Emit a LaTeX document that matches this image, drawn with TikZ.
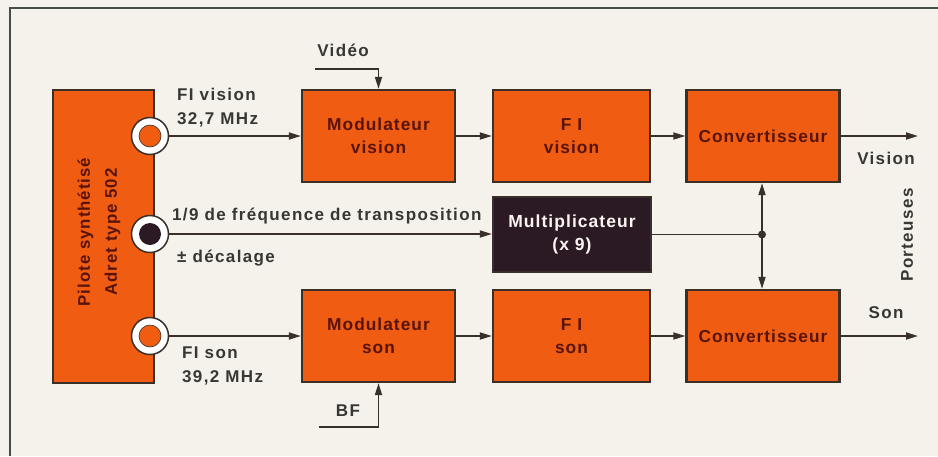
\documentclass[tikz,border=0pt]{standalone}
\usepackage{fontspec}
\setmainfont{Liberation Sans}[LetterSpace=6]
\newfontfamily\labfont{Liberation Sans}[LetterSpace=8]
\usetikzlibrary{arrows.meta,calc}
\definecolor{bg}{RGB}{244,242,234}
\definecolor{orng}{RGB}{240,92,18}
\definecolor{brd}{RGB}{58,48,42}
\definecolor{btxt}{RGB}{88,20,10}
\definecolor{ltxt}{RGB}{55,55,52}
\definecolor{dark}{RGB}{43,26,36}
\definecolor{frm}{RGB}{70,78,72}
\begin{document}
\begin{tikzpicture}[x=1pt,y=-1pt,
  blk/.style={draw=brd,line width=2.3pt,fill=orng,minimum width=153pt,minimum height=92pt,
    inner sep=0pt,align=center,text=btxt,font=\fontsize{17.3}{23}\selectfont\bfseries},
  multblk/.style={blk,fill=dark,text=white!92!brown,minimum width=158pt,minimum height=75pt,
    font=\fontsize{17.5}{23}\selectfont\bfseries},
  lab/.style={text=ltxt,font=\labfont\fontsize{17}{24}\selectfont\bfseries,inner sep=0pt,align=left},
  conn/.style={draw=brd,line width=1.7pt},
  arr/.style={conn,-{Triangle[length=12pt,width=7pt]}},
  ring/.style={circle,draw=brd,line width=1.5pt,fill=white,minimum size=37pt,inner sep=0pt},
  core/.style={circle,minimum size=22pt,inner sep=0pt}]
\fill[bg] (0,0) rectangle (938,456);
\useasboundingbox (0,0) rectangle (938,456);
\draw[frm,line width=1.2pt] (938,8) -- (10,8) -- (10,456);
% pilote
\node[blk,minimum width=101pt,minimum height=293pt,anchor=north west] (pil) at (52,89) {};
\node[text=btxt,font=\fontsize{16.8}{27}\selectfont\bfseries,rotate=90,align=center] (piltxt) at (99,232)
  {Pilote synthétisé\\Adret type 502};
% coordinates
\coordinate (c1) at (150,136);
\coordinate (c2) at (150,234);
\coordinate (c3) at (150,336);
% blocks
\node[blk] (modv) at (378.5,136) {Modulateur\\vision};
\node[blk,minimum width=157pt] (fiv) at (571.5,136) {F I\\vision};
\node[blk] (convv) at (763,136) {Convertisseur};
\node[multblk] (mult) at (572,234.5) {Multiplicateur\\(x 9)};
\node[blk] (mods) at (378.5,336) {Modulateur\\son};
\node[blk,minimum width=157pt] (fis) at (571.5,336) {F I\\son};
\node[blk] (convs) at (763,336) {Convertisseur};
% labels
\node[lab,anchor=west] (lfiv) at (177,108) {FI vision\\32,7 MHz};
\node[lab,anchor=west] (ltr) at (172,216) {1/9 de fréquence de transposition};
\node[lab,anchor=west] (ldec) at (177,258) {± décalage};
\node[lab,anchor=west] (lfis) at (182,366) {FI son\\39,2 MHz};
\node[lab] (lvid) at (343,50) {Vidéo};
\node[lab] (lbf) at (348,411) {BF};
\node[lab] (lvis) at (886,158) {Vision};
\node[lab] (lson) at (886,313) {Son};
\node[lab,rotate=90] (lport) at (907,235) {Porteuses};
% coordinates
\coordinate (vid) at (315,69);
\coordinate (bf) at (319,427);
\coordinate (j) at (762,234.5);
\coordinate (outv) at (918,136);
\coordinate (outs) at (918,336);
% connections
\draw[arr] (c1) -- (modv);
\draw[arr] (modv) -- (fiv);
\draw[arr] (fiv) -- (convv);
\draw[arr] (convv) -- (outv);
\draw[arr] (c2) -- (c2 -| mult.west);
\draw[conn] (mult.east |- j) -- (j);
\draw[arr] (j) -- (j |- convv.south);
\draw[arr] (j) -- (j |- convs.north);
\fill[brd] (j) circle (4pt);
\draw[arr] (c3) -- (mods);
\draw[arr] (mods) -- (fis);
\draw[arr] (fis) -- (convs);
\draw[arr] (convs) -- (outs);
\draw[arr] (vid) -| (modv.north);
\draw[arr] (bf) -| (mods.south);
% connectors on pilote, drawn over the lines
\node[ring] (r1) at (c1) {};
\node[core,fill=orng,draw=brd,line width=0.6pt] (k1) at (c1) {};
\node[ring] (r2) at (c2) {};
\node[core,fill=dark] (k2) at (c2) {};
\node[ring] (r3) at (c3) {};
\node[core,fill=orng,draw=brd,line width=0.6pt] (k3) at (c3) {};
\end{tikzpicture}
\end{document}
